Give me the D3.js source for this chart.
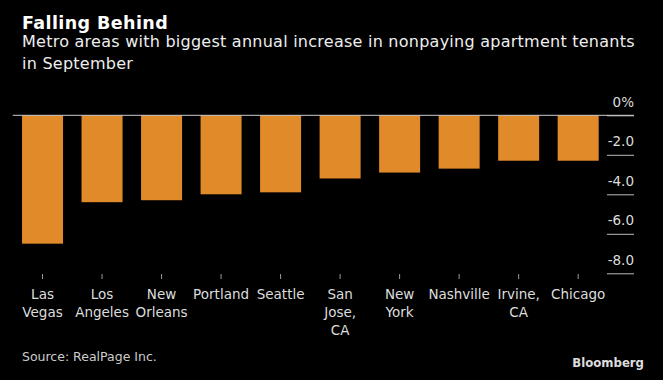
<!DOCTYPE html>
<html>
<head>
<meta charset="utf-8">
<script src="https://cdn.jsdelivr.net/npm/d3@7"></script>
<style>
  html, body { margin: 0; padding: 0; background: #000; }
  svg { display: block; }
</style>
</head>
<body>
<svg id="chart" width="663" height="380"></svg>
<script>
const categories = ["Las Vegas", "Los Angeles", "New Orleans", "Portland", "Seattle",
                    "San Jose, CA", "New York", "Nashville", "Irvine, CA", "Chicago"];
const values = [-6.5, -4.4, -4.3, -4.0, -3.9, -3.2, -2.9, -2.7, -2.3, -2.3];
const yTicks = [0, -2, -4, -6, -8];
const title = "Falling Behind";
const subtitleLines = ["Metro areas with biggest annual increase in nonpaying apartment tenants",
                       "in September"];
const source = "Source: RealPage Inc.";

const W = 663, H = 380;
const FONT = "'DejaVu Sans', sans-serif";
const svg = d3.select("#chart");
svg.append("rect").attr("width", W).attr("height", H).attr("fill", "#000");

const x = d3.scaleBand().domain(categories).range([12.8, 607.9])
  .paddingInner(0.311).paddingOuter(0.155);
const y = d3.scaleLinear().domain([0, -8]).range([115.3, 273.3]);

// gridline segments + labels on the right
const yAxis = d3.axisLeft(y).tickValues(yTicks).tickSize(27)
  .tickFormat(v => v === 0 ? "0%" : v.toFixed(1));
const gy = svg.append("g").attr("transform", "translate(634,0)").call(yAxis);
gy.select(".domain").remove();
gy.selectAll(".tick line").attr("stroke", "#bbb").attr("stroke-width", 1);
gy.selectAll(".tick text")
  .attr("x", 0).attr("dy", null).attr("y", -9)
  .attr("text-anchor", "end")
  .attr("fill", "#ddd").style("font-family", FONT).style("font-size", "13.5px");

// bars
svg.append("g").selectAll("rect").data(categories).join("rect")
  .attr("x", d => x(d))
  .attr("width", x.bandwidth())
  .attr("y", y(0))
  .attr("height", (d, i) => y(values[i]) - y(0))
  .attr("fill", "#e08a2a");

// zero line across
svg.append("line")
  .attr("x1", x.range()[0]).attr("x2", 634)
  .attr("y1", y(0)).attr("y2", y(0))
  .attr("stroke", "#ccc").attr("stroke-width", 1);

// x axis
const xAxis = d3.axisBottom(x).tickSize(5).tickSizeOuter(0);
const gx = svg.append("g").attr("transform", "translate(0,274)").call(xAxis);
gx.select(".domain").remove();
gx.selectAll(".tick line").attr("stroke", "#999");
gx.selectAll(".tick text").each(function(d) {
  const t = d3.select(this);
  t.text(null).attr("y", 0).attr("dy", null)
    .attr("fill", "#ddd").style("font-family", FONT).style("font-size", "13.5px")
    .attr("text-anchor", "middle");
  d.split(" ").forEach((w, i) => {
    t.append("tspan").attr("x", 0).attr("y", 25 + i * 17.8).text(w);
  });
});

// title & subtitle
svg.append("text").attr("x", 22).attr("y", 28.5).text(title)
  .attr("fill", "#fff").style("font-family", FONT).style("font-weight", "bold")
  .style("font-size", "17.5px").style("letter-spacing", "0.4px");
subtitleLines.forEach((s, i) => {
  svg.append("text").attr("x", 22).attr("y", 47 + i * 22).text(s)
    .attr("fill", "#eee").style("font-family", FONT).style("font-size", "16px")
    .style("letter-spacing", "0.25px");
});

svg.append("text").attr("x", 22).attr("y", 361).text(source)
  .attr("fill", "#ccc").style("font-family", FONT).style("font-size", "12.5px");
svg.append("text").attr("x", 644).attr("y", 367).attr("text-anchor", "end").text("Bloomberg")
  .attr("fill", "#ddd").style("font-family", "'DejaVu Sans Condensed', 'DejaVu Sans', sans-serif")
  .style("font-weight", "bold").style("font-size", "13px");
</script>
</body>
</html>
